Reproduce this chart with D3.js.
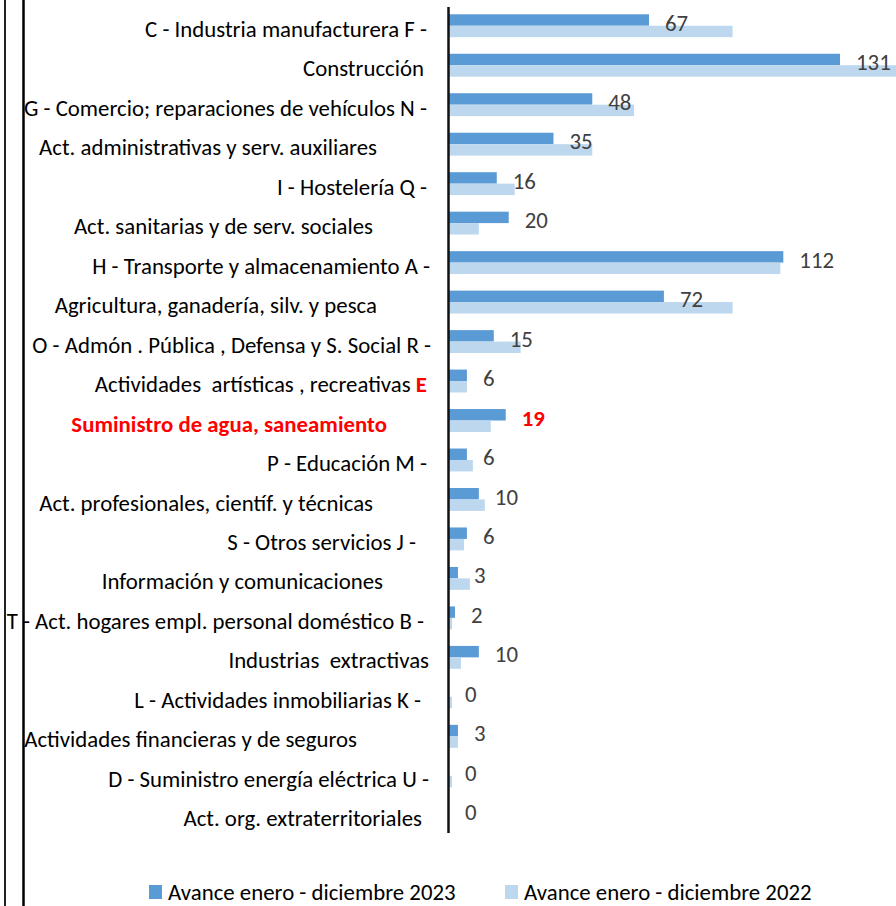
<!DOCTYPE html>
<html>
<head>
<meta charset="utf-8">
<script src="https://cdn.jsdelivr.net/npm/d3@7"></script>
<style>
  body { margin: 0; background: #fff; }
  svg text { font-family: Carlito, Calibri, "Liberation Sans Narrow", "Liberation Sans", sans-serif; white-space: pre; }
</style>
</head>
<body>
<svg id="chart" width="896" height="906"></svg>
<script>
// Row labels as they appear (lines of the original wrapped labels)
var rowLabels = [
  "C - Industria manufacturera F -",
  "Construcción",
  "G - Comercio; reparaciones de vehículos N -",
  "Act. administrativas y serv. auxiliares",
  "I - Hostelería Q -",
  "Act. sanitarias y de serv. sociales",
  "H - Transporte y almacenamiento A -",
  "Agricultura, ganadería, silv. y pesca",
  "O - Admón . Pública , Defensa y S. Social R -",
  "Actividades  artísticas , recreativas ",
  "",
  "P - Educación M -",
  "Act. profesionales, científ. y técnicas",
  "S - Otros servicios J -",
  "Información y comunicaciones",
  "T - Act. hogares empl. personal doméstico B -",
  "Industrias  extractivas",
  "L - Actividades inmobiliarias K -",
  "Actividades financieras y de seguros",
  "D - Suministro energía eléctrica U -",
  "Act. org. extraterritoriales"
];
// highlighted (red, bold) part of each label
var redLabels = ["", "", "", "", "", "", "", "", "", "E", "Suministro de agua, saneamiento",
  "", "", "", "", "", "", "", "", "", ""];

var values2023 = [67, 131, 48, 35, 16, 20, 112, 72, 15, 6, 19, 6, 10, 6, 3, 2, 10, 0, 3, 0, 0];
var values2022 = [95, 150, 62, 48, 22, 10, 111, 95, 24, 6, 14, 8, 12, 5, 7, 1, 4, 1, 3, 1, 0];

var seriesNames = ["Avance enero - diciembre 2023", "Avance enero - diciembre 2022"];
var seriesColors = ["#5B9BD5", "#BDD7EE"];

// right edge of each label line (layout, not data)
var labelEnd = [427, 424, 427, 377, 427, 373, 430, 377, 431, 427, 387, 427, 373, 416, 383, 424, 429, 421, 357, 429, 422];

var svg = d3.select("#chart");
var idx = d3.range(rowLabels.length);
var fs = 23;

// Scales
var y = d3.scaleBand().domain(idx).range([6, 835]);
var x = d3.scaleLinear().domain([0, 150]).range([449, 896.75]);
var barH = y.bandwidth() * 0.29;
function cy(i) { return y(i) + y.bandwidth() / 2; }

// Left frame lines
svg.append("line").attr("x1", 5).attr("x2", 5).attr("y1", 0).attr("y2", 906)
  .attr("stroke", "#222").attr("stroke-width", 2);
svg.append("line").attr("x1", 23.5).attr("x2", 23.5).attr("y1", 0).attr("y2", 906)
  .attr("stroke", "#000").attr("stroke-width", 2.5);

// Bars 2023 (dark, upper half of the band)
svg.append("g").selectAll("rect")
  .data(idx).enter().append("rect")
  .attr("x", x(0))
  .attr("y", function(i) { return cy(i) - barH; })
  .attr("width", function(i) { return x(values2023[i]) - x(0); })
  .attr("height", barH)
  .attr("fill", seriesColors[0]);

// Bars 2022 (light, lower half)
svg.append("g").selectAll("rect")
  .data(idx).enter().append("rect")
  .attr("x", x(0))
  .attr("y", function(i) { return cy(i); })
  .attr("width", function(i) { return x(values2022[i]) - x(0); })
  .attr("height", barH)
  .attr("fill", seriesColors[1]);

// Axis line
svg.append("line").attr("x1", 448.5).attr("x2", 448.5).attr("y1", 7).attr("y2", 833)
  .attr("stroke", "#111").attr("stroke-width", 2.5);

// Category labels
var labels = svg.append("g").selectAll("text")
  .data(idx).enter().append("text")
  .attr("text-anchor", "end")
  .attr("font-size", fs)
  .attr("fill", "#000");

labels.append("tspan").text(function(i) { return rowLabels[i]; });
labels.append("tspan")
  .attr("font-weight", "bold")
  .attr("fill", "#FF0000")
  .text(function(i) { return redLabels[i]; });

// calibrate width so the fallback font matches the original's narrow face
var w0 = labels.filter(function(i) { return i === 0; }).node().getComputedTextLength();
var k = 282 / w0;
labels.attr("transform", function(i) {
  return "translate(" + labelEnd[i] + "," + (cy(i) + 3) + ") scale(" + k + ",1)";
}).attr("dy", "0.35em");

// Value labels for 2023
function isRed(i) { return redLabels[i] && !rowLabels[i]; }
svg.append("g").selectAll("text")
  .data(idx).enter().append("text")
  .attr("transform", function(i) {
    return "translate(" + (x(values2023[i]) + 16) + "," + (cy(i) - 3) + ") scale(" + k + ",1)";
  })
  .attr("dy", "0.35em")
  .attr("font-size", fs)
  .attr("font-weight", function(i) { return isRed(i) ? "bold" : null; })
  .attr("fill", function(i) { return isRed(i) ? "#FF0000" : "#404040"; })
  .text(function(i) { return values2023[i]; });

// Legend
var legend = svg.append("g").selectAll("g")
  .data(seriesNames).enter().append("g")
  .attr("transform", function(d, i) { return "translate(" + (149 + i * 356) + ",885)"; });
legend.append("rect").attr("width", 13).attr("height", 14)
  .attr("fill", function(d, i) { return seriesColors[i]; });
legend.append("text")
  .attr("transform", "translate(19,15) scale(" + k + ",1)")
  .attr("font-size", fs)
  .attr("fill", "#000")
  .text(function(d) { return d; });
</script>
</body>
</html>
